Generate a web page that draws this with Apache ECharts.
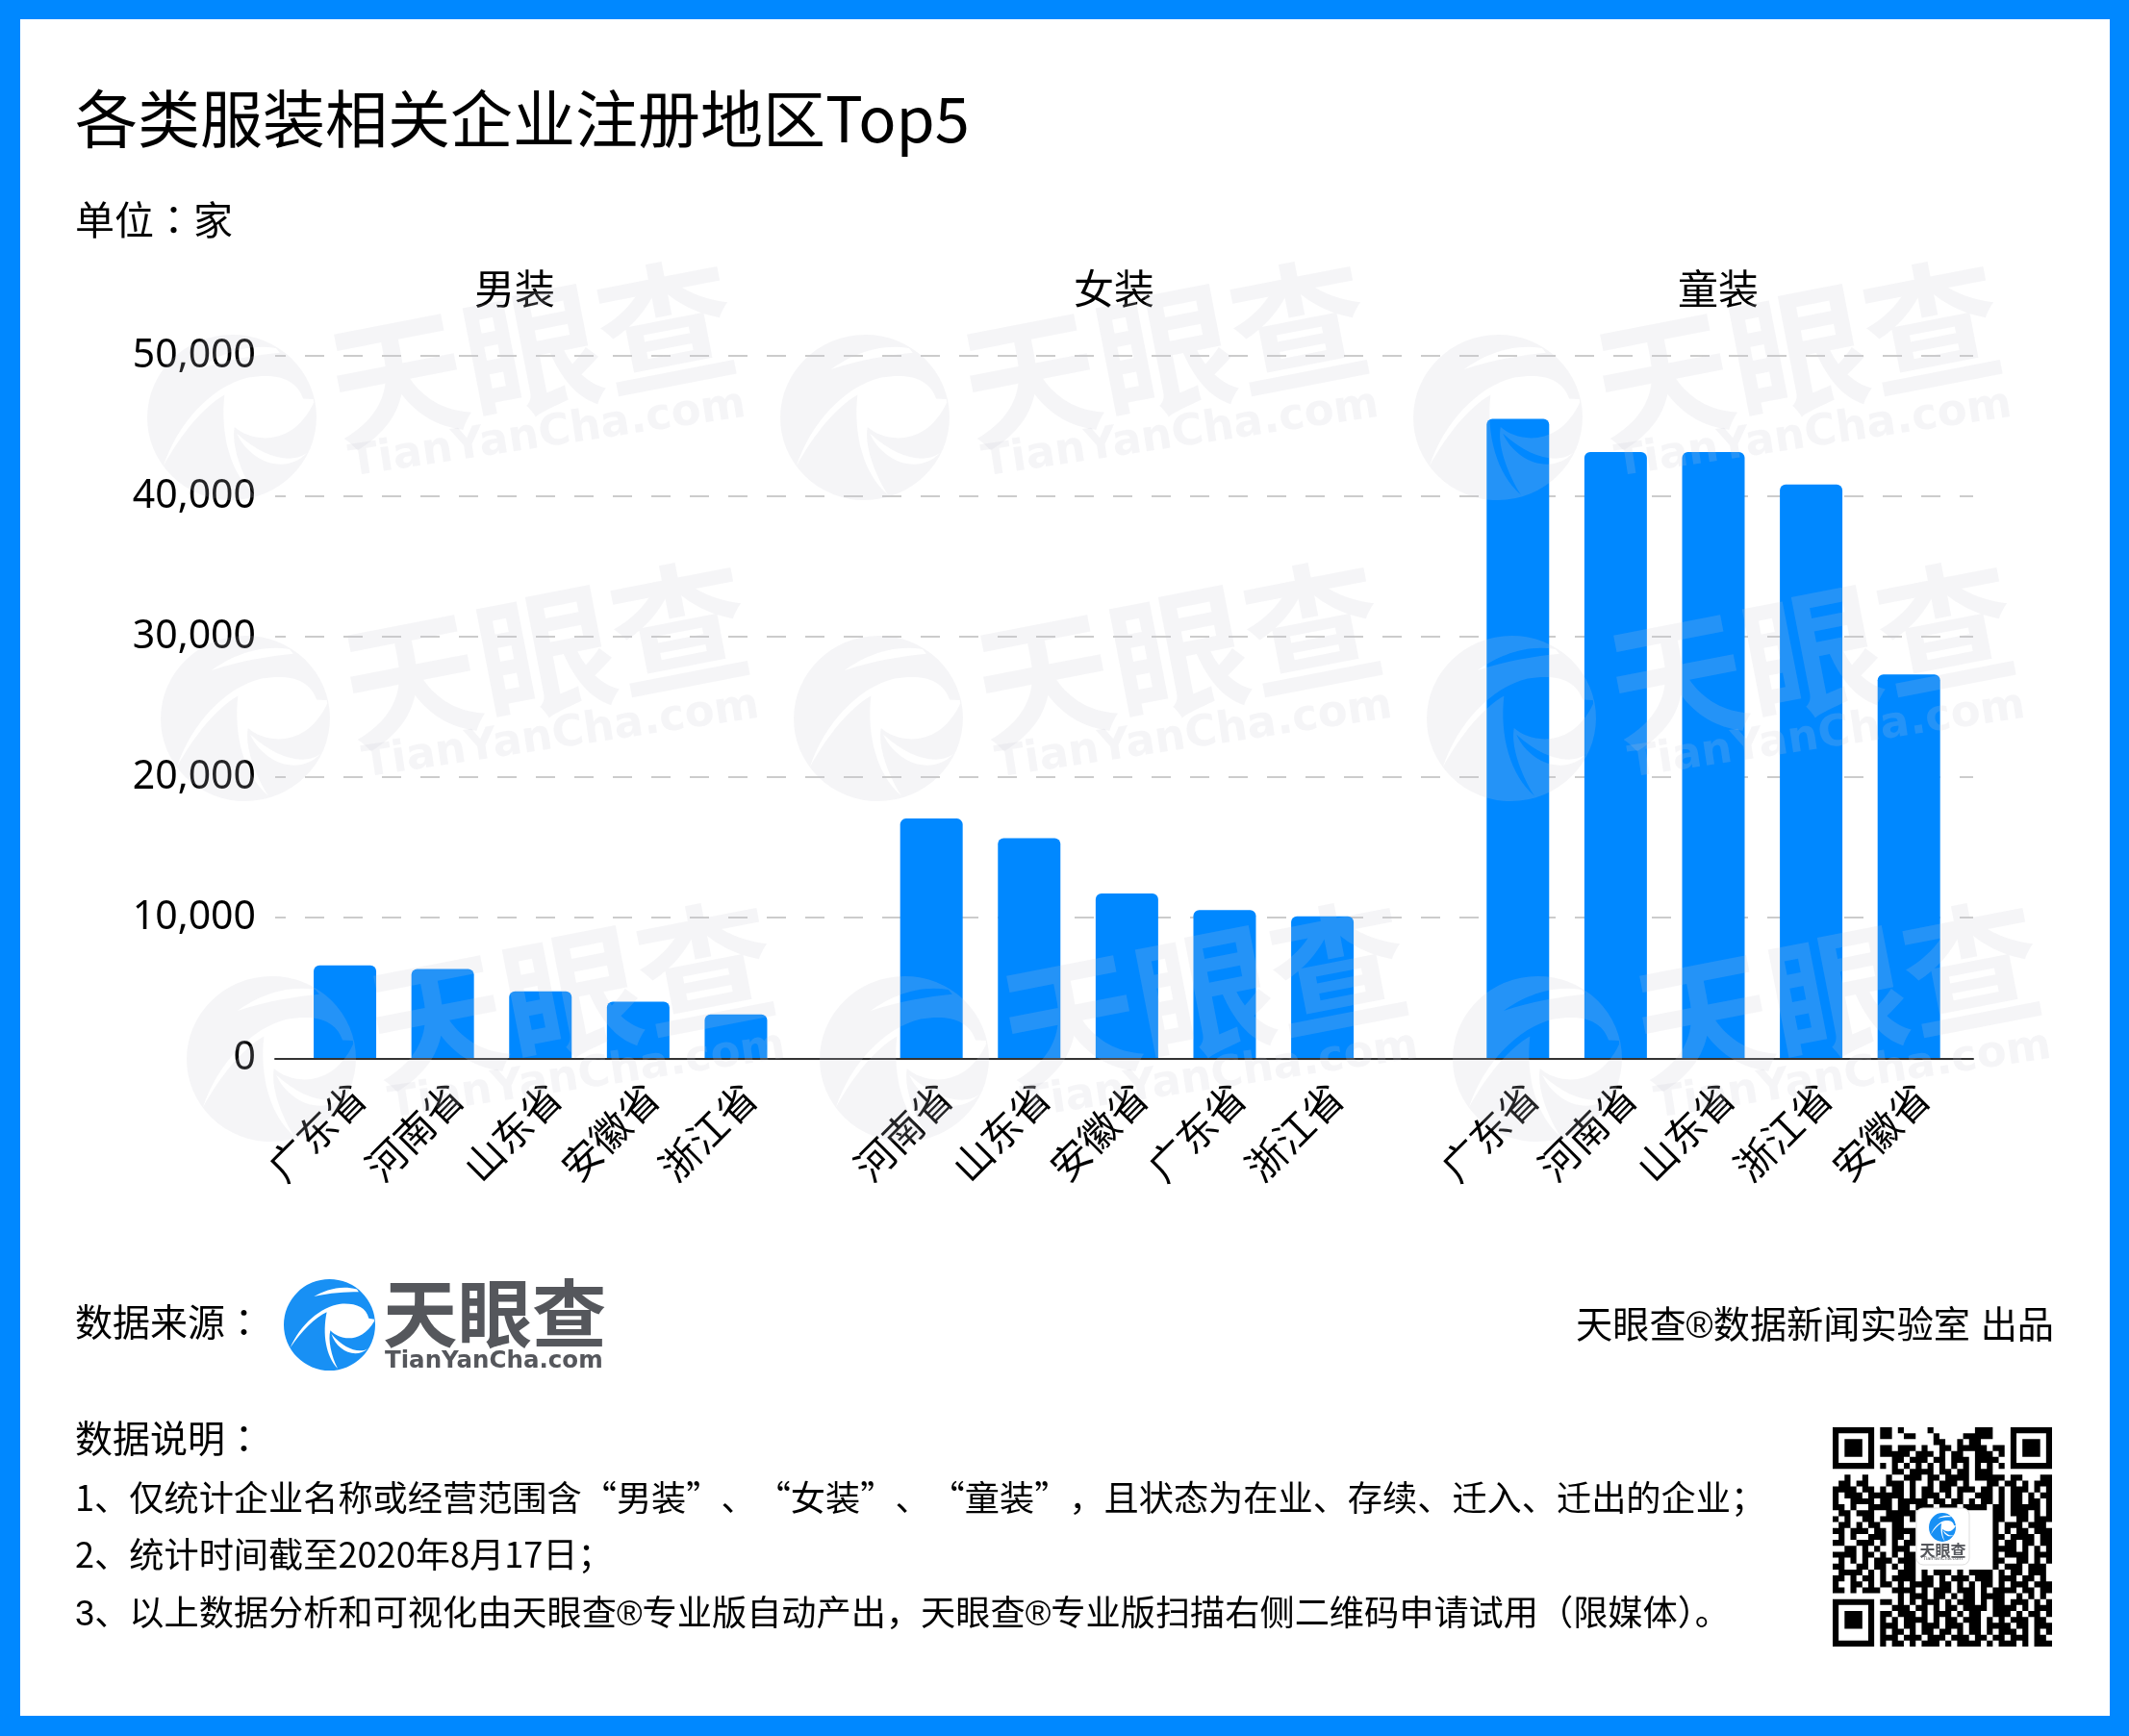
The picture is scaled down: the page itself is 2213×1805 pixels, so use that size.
<!DOCTYPE html>
<html>
<head>
<meta charset="UTF-8"/>
<title>各类服装相关企业注册地区Top5</title>
<script src="https://cdn.jsdelivr.net/npm/echarts@6/dist/echarts.min.js"></script>
<style>
html,body{margin:0;padding:0;background:#0088ff;}
#main{width:2213px;height:1805px;}
</style>
</head>
<body>
<div id="main"></div>
<script>
var titleText = '各类服装相关企业注册地区Top5';
var unitText = '单位：家';
var groupNames = ['男装', '女装', '童装'];
var menRegions = ['广东省', '河南省', '山东省', '安徽省', '浙江省'];
var menValues = [6610, 6360, 4760, 4030, 3120];
var womenRegions = ['河南省', '山东省', '安徽省', '广东省', '浙江省'];
var womenValues = [17060, 15670, 11720, 10540, 10100];
var kidsRegions = ['广东省', '河南省', '山东省', '浙江省', '安徽省'];
var kidsValues = [45510, 43160, 43160, 40840, 27320];
var noteLines = [
  '数据说明：',
  '1、仅统计企业名称或经营范围含“男装”、“女装”、“童装”，且状态为在业、存续、迁入、迁出的企业；',
  '2、统计时间截至2020年8月17日；',
  '3、以上数据分析和可视化由天眼查®专业版自动产出，天眼查®专业版扫描右侧二维码申请试用（限媒体）。'
];

var CJK = '"Noto Sans CJK SC","Noto Sans",sans-serif';
var CJK_TC = '"Noto Sans CJK TC","Noto Sans",sans-serif'; // 冒号居中
var CJK_REG = '"Liberation Sans","Noto Sans CJK SC",sans-serif'; // ®要宽一点
var BLUE = '#0088ff';

// 组之间空一格
var categories = menRegions.concat([''], womenRegions, [''], kidsRegions);
var values = menValues.concat([null], womenValues, [null], kidsValues);

// logo: 外圆顺时针, 白色的弧逆时针挖空
var logoPath = 'M50 0A50 50 0 1 1 50 100A50 50 0 1 1 50 0Z' +
  'M80 11C62 6 45 12 33 19C50 15 68 14 82 14Z' +
  'M99 44L93 43C90 30 78 26 62 27C40 30 18 50 7 75C20 56 34 42 47 36' +
  'C42 60 46 84 59 98C52 84 48 66 51 56C60 66 84 72 99 46Z' +
  'M92 76C82 82 66 76 52 60C58 78 78 88 92 76Z';

// 二维码 37x37
var qrRows = [
  '#######.##.#....#.......###...#######',
  '#.....#.##..##...#....#####...#.....#',
  '#.###.#..........##..#.##.....#.###.#',
  '#.###.#.##.###.#..##.#####.##.#.###.#',
  '#.###.#.#####.###.#.##..###.#.#.###.#',
  '#.....#...##.###.##.###.####..#.....#',
  '#######.#.#.#.#.#.#.#.#.#.#.#.#######',
  '..........##.####.##.##.###..........',
  '..#..#...#..###.##.####.#####.##...##',
  '.##.##...###.#..#.###.#...##.##.#.###',
  '####.##.#.##.#.##.##.###.##.#.###.#.#',
  '#.###.######.#.###.#.#..###.#.##.#.##',
  '#..####.##.#####.##.##.#.##.#.##.##.#',
  '##.#..####.##.###.###.####.##.#####.#',
  '.##.###..#####.............##.###.#.#',
  '#.#..##.####.#.............##..##.###',
  '.##.#.##..##...............#.###.###.',
  '##.###.##.####.............#.#.##.###',
  '.#.#..###.##.#.............##.####.##',
  '##..###.#.#.##.............#.##.##.##',
  '..##.#.#..###..............####.#.#.#',
  '####.##.#.#.##.............#.####.###',
  '.#.#.#.###.###.............##..##.#.#',
  '##..##.##.#.##.............#.###.###.',
  '.####.#.#..###.#.###.#.####.#.##.###.',
  '##.#.##.#.####.##.#.###.###.###.##.#.',
  '#..##.#.##.#.####.##.#.#.##.#.###.###',
  '##.#.###..####.#.###.###.#.####.##.##',
  '...........#.###.##.#.##.####..#.#.#.',
  '#######.##.#.#.###.#.###.#.##.###.#.#',
  '#.....#...###.##.#.##.####.####.#.###',
  '#.###.#.##.###.#.###.#.##..###.#.##.#',
  '#.###.#.#.#.####.#.##.###.#.#.###.##.',
  '#.###.#.###.##.###.###.##.####.##.###',
  '#.....#.#.##.#.##.##.#.##.#.###.#.#.#',
  '#.....#.###.###.###.###.##.##.###.##.',
  '#######.#.##.#.###.#.####.#.###.#.###'
];

function qrPath() {
  var d = '';
  qrRows.forEach(function (row, r) {
    for (var c = 0; c < row.length; c++) {
      if (row[c] === '#') {
        d += 'M' + c + ' ' + r + 'h1v1h-1Z';
      }
    }
  });
  return d;
}

// graphic 组件没有 path, 注册两个形状
echarts.graphic.registerShape('tycLogo', echarts.graphic.extendPath(logoPath, {}));
echarts.graphic.registerShape('tycQr', echarts.graphic.extendPath(qrPath(), {}));

function txt(text, x, y, size, opt) {
  opt = opt || {};
  return {
    type: 'text', x: x, y: y, z: opt.z || 10, rotation: opt.rotation || 0, silent: true,
    style: {
      text: text, fill: opt.fill || '#000',
      font: (opt.weight || 'normal') + ' ' + size + 'px ' + (opt.family || CJK),
      textAlign: opt.align || 'left', textVerticalAlign: 'middle', textBaseline: 'middle'
    }
  };
}

// 缩放绕 (50,50), 所以 x,y 按中心算
function logo(x, y, w, h, fill, z, rotation) {
  return {
    type: 'tycLogo', z: z, silent: true,
    x: x + w / 2 - 50, y: y + h / 2 - 50, scaleX: w / 100, scaleY: h / 100,
    originX: 50, originY: 50, rotation: rotation || 0,
    style: { fill: fill }
  };
}

function watermarks() {
  var out = [], WM = 'rgba(200,200,210,0.18)', rot = 11 * Math.PI / 180;
  var rows = [[0, 0], [14, 313], [41, 667]];
  rows.forEach(function (off) {
    for (var i = 0; i < 3; i++) {
      var dx = off[0] + i * 658, dy = off[1];
      out.push(logo(153 + dx, 348 + dy, 176, 172, WM, 50, 0.1));
      out.push(txt('天眼查', 553 + dx, 366 + dy, 142, { z: 50, rotation: rot, weight: 'bold', fill: WM, align: 'center' }));
      out.push(txt('TianYanCha.com', 569 + dx, 452 + dy, 45, { z: 50, rotation: 0.15, weight: 'bold', fill: WM, align: 'center', family: '"DejaVu Sans"' }));
    }
  });
  return out;
}

var graphics = [
  { type: 'rect', z: -1, silent: true, shape: { x: 21, y: 20, width: 2172, height: 1764 }, style: { fill: '#fff' } },
  txt(unitText, 78, 228, 41, { family: CJK_TC }),
  txt(groupNames[0], 535, 300, 42, { align: 'center' }),
  txt(groupNames[1], 1158, 300, 42, { align: 'center' }),
  txt(groupNames[2], 1786, 300, 42, { align: 'center' }),
  txt('数据来源：', 78, 1374, 39, { family: CJK_TC }),
  logo(295, 1330, 95, 95, '#1890f4', 10),
  txt('天眼查', 398, 1366, 77.5, { weight: 'bold', fill: '#55575c' }),
  txt('TianYanCha.com', 400, 1416, 24.5, { weight: 'bold', fill: '#55575c', family: '"DejaVu Sans"' }),
  txt('天眼查®数据新闻实验室 出品', 2135, 1380, 38.2, { align: 'right', family: CJK_REG }),
  txt(noteLines[0], 78, 1495, 39, { family: CJK_TC }),
  txt(noteLines[1], 78, 1557, 36.2),
  txt(noteLines[2], 78, 1616, 36.2),
  txt(noteLines[3], 78, 1680, 36.2, { family: CJK_REG }),
  { type: 'tycQr', z: 10, silent: true, x: 1905, y: 1484, scaleX: 228 / 37, scaleY: 228 / 37, style: { fill: '#000' } },
  { type: 'rect', z: 11, silent: true, shape: { x: 1992, y: 1568, width: 55, height: 59, r: 7 }, style: { fill: '#fff', stroke: '#ddd', lineWidth: 1 } },
  logo(2005, 1573, 28, 30, '#1890f4', 12),
  txt('天眼查', 2019.5, 1612, 16, { z: 12, align: 'center', weight: 'bold', fill: '#55575c' }),
  txt('TianYanCha.com', 2019.5, 1621, 5, { z: 12, align: 'center', fill: '#55575c', family: '"DejaVu Sans"' })
].concat(watermarks());

var chart = echarts.init(document.getElementById('main'), null, { renderer: 'canvas' });
chart.setOption({
  backgroundColor: BLUE,
  animation: false,
  title: {
    text: titleText, left: 73, top: 86,
    textStyle: { fontFamily: CJK, fontSize: 65, fontWeight: 'normal', color: '#000' }
  },
  graphic: { elements: graphics },
  grid: [
    // 外层: 网格线和基线
    { left: 286, right: 162, top: 370, height: 730.3 },
    // 内层: 柱子
    { left: 307.75, right: 178, top: 370, height: 730.3 }
  ],
  xAxis: [
    {
      type: 'category', gridIndex: 0, data: categories, z: 3,
      axisLine: { lineStyle: { color: '#333', width: 2 } },
      axisTick: { show: false }, axisLabel: { show: false }, splitLine: { show: false }
    },
    {
      type: 'category', gridIndex: 1, data: categories,
      axisLine: { show: false }, axisTick: { show: false },
      axisLabel: {
        interval: 0, rotate: 45, margin: 47, align: 'right', padding: [0, -20, 0, 0],
        fontFamily: CJK, fontSize: 41, color: '#000'
      }
    }
  ],
  yAxis: [
    {
      type: 'value', gridIndex: 0, min: 0, max: 50000, interval: 10000,
      axisLine: { show: false }, axisTick: { show: false },
      axisLabel: {
        margin: 20, padding: [6, 0, 0, 0], fontFamily: '"Noto Sans",sans-serif', fontSize: 41, color: '#000',
        formatter: function (v) { return v.toLocaleString('en-US'); }
      },
      splitLine: { lineStyle: { color: '#cccccc', width: 2, type: [20, 20], dashOffset: 9 } }
    },
    { type: 'value', gridIndex: 1, min: 0, max: 50000, interval: 10000, show: false }
  ],
  series: [{
    type: 'bar', xAxisIndex: 1, yAxisIndex: 1, data: values, barWidth: 65,
    itemStyle: { color: BLUE, borderRadius: [6, 6, 0, 0] }
  }]
});
</script>
</body>
</html>
